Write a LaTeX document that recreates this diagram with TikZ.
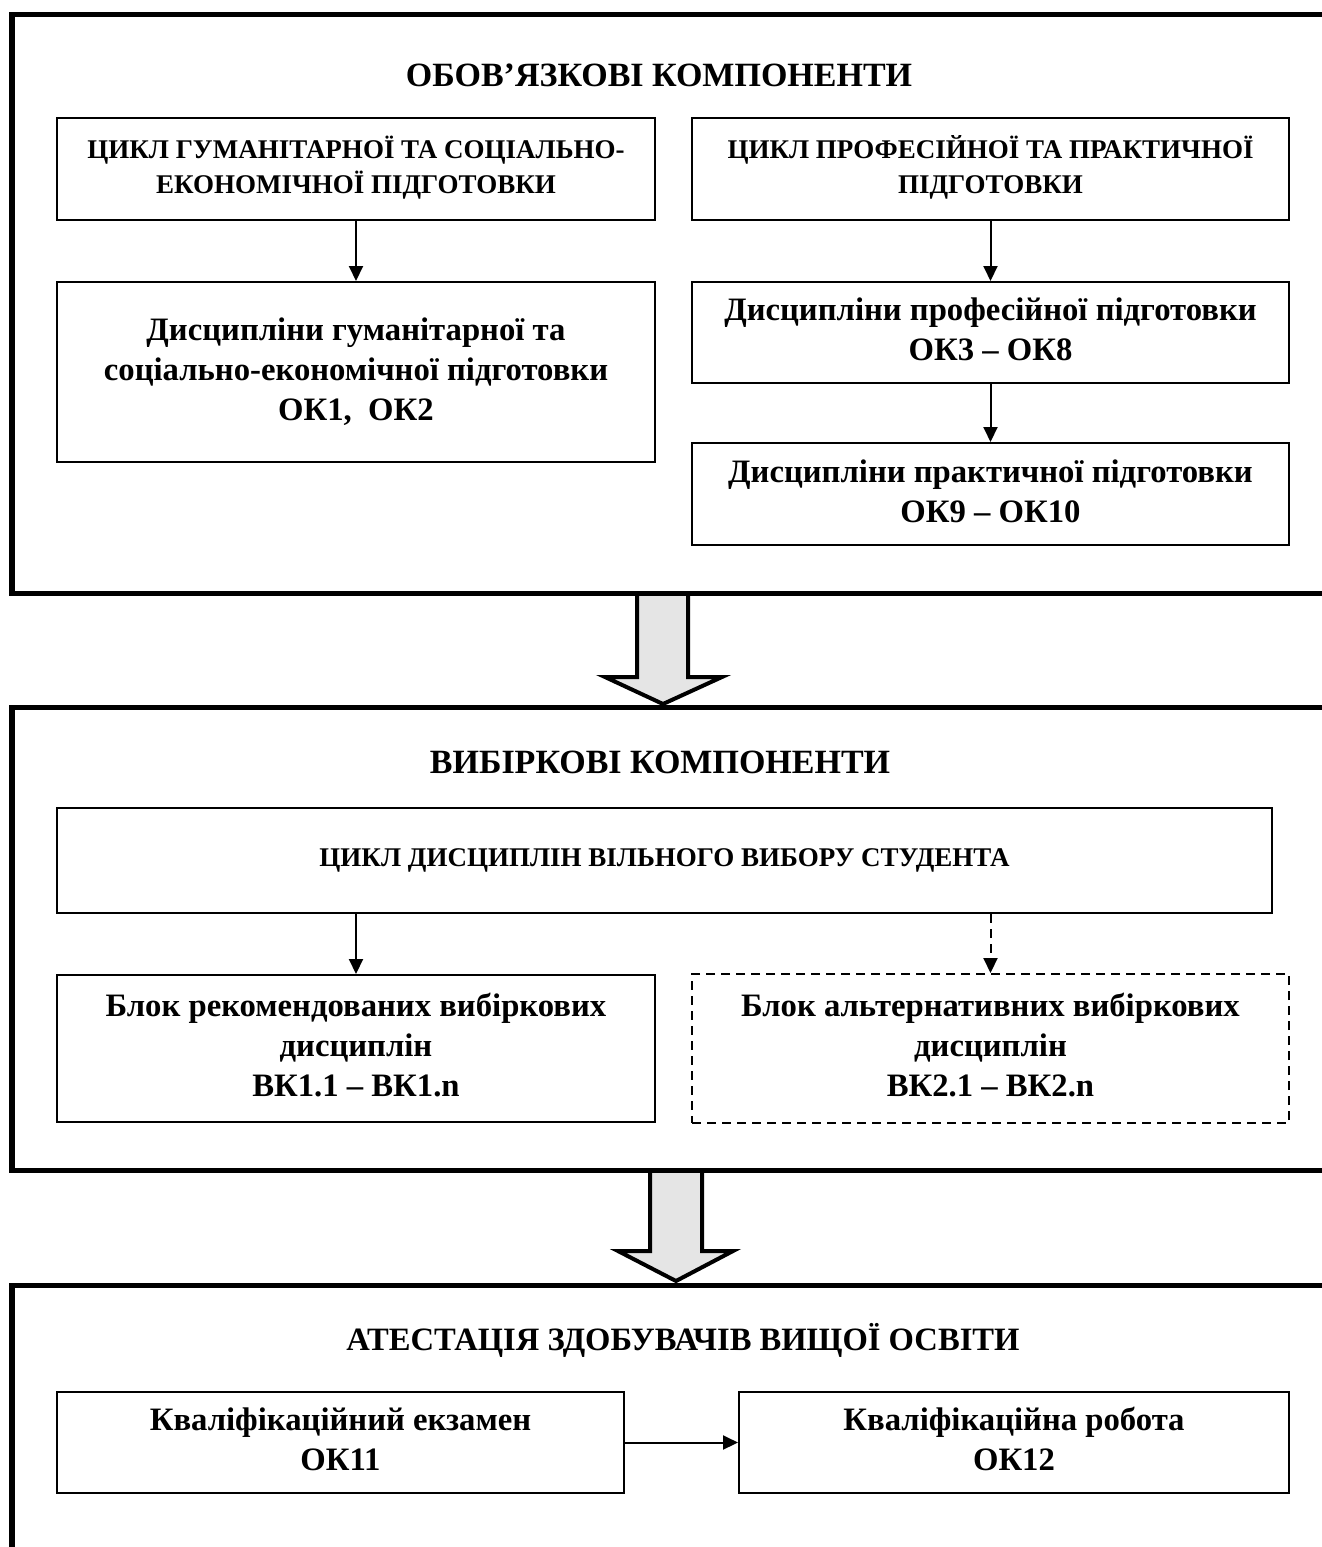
\documentclass[tikz,border=0pt]{standalone}
\usepackage{fontspec}
\setmainfont{Liberation Serif}
\usetikzlibrary{arrows.meta}

\tikzset{
  frame/.style={line width=5.5pt},
  block/.style={draw, line width=2pt, inner sep=0pt, font=\fontsize{32.7}{40}\selectfont\bfseries},
  caps block/.style={block, font=\fontsize{27}{35}\selectfont\bfseries},
  heading/.style={font=\fontsize{34}{40}\selectfont\bfseries},
  link/.style={line width=2pt, -{Triangle[length=15pt,width=14pt]}},
  big arrow/.style={line width=4pt, fill=black!10, line join=miter}
}

\begin{document}
\begin{tikzpicture}[x=1pt, y=-1pt]
\useasboundingbox (0,0) rectangle (1322,1547);

% big arrows between the parts
\draw[big arrow] (637,593) -- (637,677) -- (605,677) -- (663,704) -- (722,677) -- (688,677) -- (688,593) -- cycle;
\draw[big arrow] (650,1170) -- (650,1251) -- (618,1251) -- (676,1281) -- (733,1251) -- (702,1251) -- (702,1170) -- cycle;

% frames
\draw[frame] (1322,14.5) -| (12,593.5) -- (1322,593.5);
\draw[frame] (1322,707.5) -| (12,1170.5) -- (1322,1170.5);
\draw[frame] (1322,1285.5) -| (12,1547);

% compulsory components
\node[heading] (compulsory) at (659,75) {ОБОВ’ЯЗКОВІ КОМПОНЕНТИ};

\node[caps block, minimum width=598, minimum height=102] (humanities cycle) at (356,169) {\begin{tabular}{c}
ЦИКЛ ГУМАНІТАРНОЇ ТА СОЦІАЛЬНО- \\
ЕКОНОМІЧНОЇ ПІДГОТОВКИ
\end{tabular}};

\node[caps block, minimum width=597, minimum height=102] (professional cycle) at (990.5,169) {\begin{tabular}{c}
ЦИКЛ ПРОФЕСІЙНОЇ ТА ПРАКТИЧНОЇ \\
ПІДГОТОВКИ
\end{tabular}};

\node[block, minimum width=598, minimum height=180] (humanities courses) at (356,372) {\begin{tabular}{c}
Дисципліни гуманітарної та \\
соціально-економічної підготовки \\
ОК1,~~ОК2
\end{tabular}};

\node[block, minimum width=597, minimum height=101] (professional courses) at (990.5,332.5) {\begin{tabular}{c}
Дисципліни професійної підготовки \\
ОК3 – ОК8
\end{tabular}};

\node[block, minimum width=597, minimum height=102] (practical courses) at (990.5,494) {\begin{tabular}{c}
Дисципліни практичної підготовки \\
ОК9 – ОК10
\end{tabular}};

\draw[link] (humanities cycle) -- (humanities courses);
\draw[link] (professional cycle) -- (professional courses);
\draw[link] (professional courses) -- (practical courses);

% elective components
\node[heading] (elective) at (660,762) {ВИБІРКОВІ КОМПОНЕНТИ};

\node[caps block, minimum width=1215, minimum height=105] (free choice cycle) at (664.5,860.5) {ЦИКЛ ДИСЦИПЛІН ВІЛЬНОГО ВИБОРУ СТУДЕНТА};

\node[block, minimum width=598, minimum height=147] (recommended block) at (356,1048.5) {\begin{tabular}{c}
Блок рекомендованих вибіркових \\
дисциплін \\
ВК1.1 – ВК1.n
\end{tabular}};

\node[block, dash pattern=on 9pt off 6pt, minimum width=597, minimum height=149] (alternative block) at (990.5,1048.5) {\begin{tabular}{c}
Блок альтернативних вибіркових \\
дисциплін \\
ВК2.1 – ВК2.n
\end{tabular}};

\draw[link] (free choice cycle.south -| recommended block.north) -- (recommended block.north);
\draw[link, dash pattern=on 9pt off 6pt] (free choice cycle.south -| alternative block.north) -- (alternative block.north);

% attestation
\node[heading, font=\fontsize{32.6}{40}\selectfont\bfseries] (attestation) at (683,1340) {АТЕСТАЦІЯ ЗДОБУВАЧІВ ВИЩОЇ ОСВІТИ};

\node[block, minimum width=567, minimum height=101] (exam) at (340.5,1442.5) {\begin{tabular}{c}
Кваліфікаційний екзамен \\
ОК11
\end{tabular}};

\node[block, minimum width=550, minimum height=101] (thesis) at (1014,1442.5) {\begin{tabular}{c}
Кваліфікаційна робота \\
ОК12
\end{tabular}};

\draw[link] (exam) -- (thesis);
\end{tikzpicture}
\end{document}
